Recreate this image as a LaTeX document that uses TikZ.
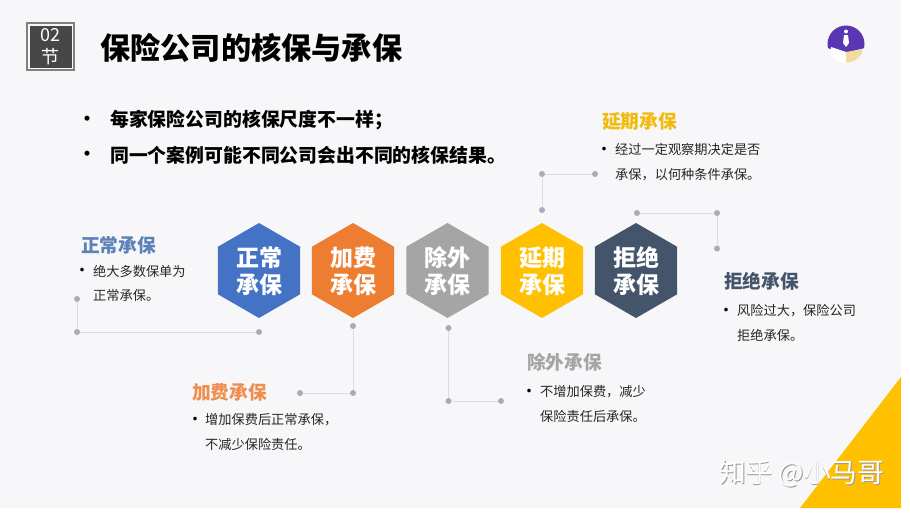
\documentclass[tikz,border=0pt]{standalone}
\usepackage{fontspec}
\setmainfont{Noto Sans CJK SC}
\usetikzlibrary{shapes.geometric}

\definecolor{paper}{HTML}{F7F7F9}
\definecolor{zcblue}{HTML}{4472C4}
\definecolor{jfblue}{HTML}{5C82B8}
\definecolor{jforange}{HTML}{ED7D31}
\definecolor{lbgray}{HTML}{A5A5A5}
\definecolor{yqyellow}{HTML}{FFC000}
\definecolor{jjnavy}{HTML}{44546A}
\definecolor{dotgray}{HTML}{A9ACB6}
\definecolor{linegray}{HTML}{DCDDE2}
\definecolor{iconpurple}{HTML}{5B36B2}
\definecolor{bookcream}{HTML}{F0DC9E}

\tikzset{
  hexa/.style={shape=regular polygon, regular polygon sides=6, regular polygon rotate=30,
    minimum size=95pt, inner sep=0pt, text=white, align=center, text depth=1pt,
    font=\fontsize{23}{27}\selectfont\bfseries},
  dot/.style={draw=none, shape=circle, fill=dotgray, minimum size=6pt, inner sep=0pt},
  wire/.style={draw=linegray, line width=1pt},
  heading/.style={anchor=west, inner sep=0pt, font=\fontsize{18.7}{22}\selectfont\bfseries},
  bodytext/.style={anchor=west, inner sep=0pt, align=left, text=black!85,
    font=\fontsize{13.2}{24.5}\selectfont},
  bullet/.style={inner sep=0pt, font=\fontsize{17}{19}\selectfont},
  leadtext/.style={anchor=west, inner sep=0pt, font=\fontsize{18.85}{22}\selectfont\bfseries},
  leadbullet/.style={inner sep=0pt, font=\fontsize{18}{22}\selectfont\bfseries},
  marktext/.style={anchor=west, inner sep=0pt, font=\fontsize{26.8}{30}\selectfont}
}

\begin{document}
\begin{tikzpicture}[x=1pt, y=-1pt]

\useasboundingbox (0,0) rectangle (910,512);
\fill[white] (0,0) rectangle (910,512);
\fill[paper] (0,0) rectangle (901,508);
\fill[yqyellow] (901,377) -- (901,508) -- (800,508) -- cycle;

% badge and title
\node[draw=gray, line width=1.5pt, fill=paper, minimum size=47pt, inner sep=0pt] (badge) at (50.5,46.5) {};
\node[fill=black!72, minimum size=42pt, inner sep=0pt, text=white, align=center,
  font=\fontsize{18}{22}\selectfont] (badgein) at (50.5,46.5) {02\\节};
\node[anchor=west, inner sep=0pt, font=\fontsize{30.2}{34}\selectfont\bfseries] (title) at (100,47.5) {保险公司的核保与承保};

% icon
\fill[iconpurple] (846,44) circle (18.5);
\fill[paper] (827,48) -- (846,53) -- (865,48) -- (865,64) -- (827,64) -- cycle;
\begin{scope}
  \clip (846,44) circle (18.5);
  \fill[white] (831,47) -- (846,52) -- (846,64) -- (831,64) -- cycle;
  \fill[bookcream] (846,52) -- (862,49) -- (862,64) -- (846,64) -- cycle;
\end{scope}
\fill[white] (846,31.5) circle (2);
\fill[white] (844,35) -- (848,35) -- (849,43) -- (846,47) -- (843,43) -- cycle;

% lead lines
\node[leadbullet] (b1) at (87,121) {•};
\node[leadtext] (lead1) at (110,120) {每家保险公司的核保尺度不一样；};
\node[leadbullet] (b2) at (87,156) {•};
\node[leadtext] (lead2) at (110,155) {同一个案例可能不同公司会出不同的核保结果。};

% hexagons
\node[hexa, fill=zcblue] (n1) at (259,270.5) {正常\\承保};
\node[hexa, fill=jforange] (n2) at (353,270.5) {加费\\承保};
\node[hexa, fill=lbgray] (n3) at (447.5,270.5) {除外\\承保};
\node[hexa, fill=yqyellow] (n4) at (542,270.5) {延期\\承保};
\node[hexa, fill=jjnavy] (n5) at (636,270.5) {拒绝\\承保};

% dots
\node[dot] (a1) at (77,299) {};
\node[dot] (a2) at (77,332) {};
\node[dot] (a3) at (259,332) {};
\node[dot] (c1) at (353,326) {};
\node[dot] (c2) at (353,393) {};
\node[dot] (c3) at (300,393) {};
\node[dot] (e1) at (448.5,328) {};
\node[dot] (e2) at (448.5,401) {};
\node[dot] (e3) at (501,401) {};
\node[dot] (y1) at (542,210) {};
\node[dot] (y2) at (542,174) {};
\node[dot] (y3) at (595,174) {};
\node[dot] (r1) at (637,213) {};
\node[dot] (r2) at (717,213) {};
\node[dot] (r3) at (717,248.5) {};

\draw[wire] (a1) to (a2);
\draw[wire] (a2) to (a3);
\draw[wire] (c1) to (c2);
\draw[wire] (c2) to (c3);
\draw[wire] (e1) to (e2);
\draw[wire] (e2) to (e3);
\draw[wire] (y1) to (y2);
\draw[wire] (y2) to (y3);
\draw[wire] (r1) to (r2);
\draw[wire] (r2) to (r3);

% captions
\node[heading, text=jfblue] (h1) at (81,245) {正常承保};
\node[bullet] (p1) at (82,272.5) {•};
\node[bodytext] (t1) at (93,283.5) {绝大多数保单为\\正常承保。};

\node[heading, text=jforange!85!paper] (h2) at (192,392) {加费承保};
\node[bullet] (p2) at (195,421.5) {•};
\node[bodytext] (t2) at (205,432) {增加保费后正常承保，\\不减少保险责任。};

\node[heading, text=lbgray] (h3) at (527,362) {除外承保};
\node[bullet] (p3) at (529,393.5) {•};
\node[bodytext] (t3) at (540,404) {不增加保费，减少\\保险责任后承保。};

\node[heading, text=yqyellow!90!gray] (h4) at (602,121) {延期承保};
\node[bullet] (p4) at (604,151.5) {•};
\node[bodytext] (t4) at (615,162) {经过一定观察期决定是否\\承保，以何种条件承保。};

\node[heading, text=jjnavy] (h5) at (724,281) {拒绝承保};
\node[bullet] (p5) at (726,312.5) {•};
\node[bodytext] (t5) at (737,323) {风险过大，保险公司\\拒绝承保。};

% watermark
\node[marktext, text=gray!80] (mark0) at (719.8,474.8) {知乎 @小马哥};
\node[marktext, text=white] (mark) at (719,474) {知乎 @小马哥};

\end{tikzpicture}
\end{document}
